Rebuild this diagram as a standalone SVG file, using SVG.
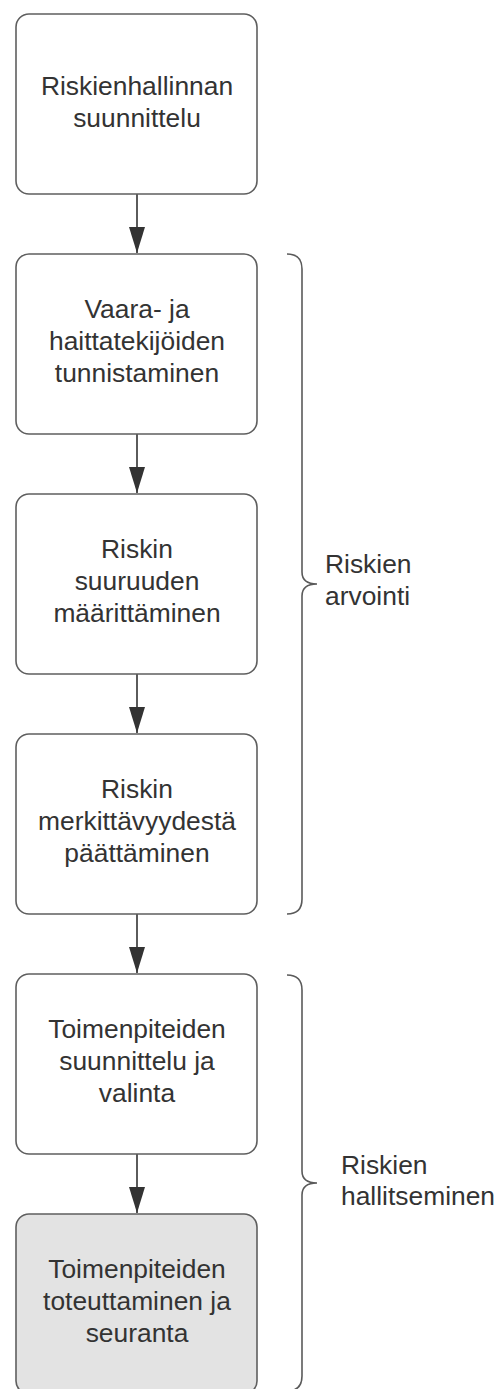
<svg xmlns="http://www.w3.org/2000/svg" width="499" height="1389" viewBox="0 0 499 1389">
<defs>
<style>
.box{fill:#ffffff;stroke:#5f5f5f;stroke-width:1.6}
.box.gray{fill:#e3e3e3}
.t{font-family:"Liberation Sans",Arial,sans-serif;font-size:26.4px;fill:#333333;text-anchor:middle}
.lbl{font-family:"Liberation Sans",Arial,sans-serif;font-size:26.4px;fill:#333333}
.edge{stroke:#333333;stroke-width:1.6;fill:none}
.brace{stroke:#5a5a5a;stroke-width:1.6;fill:none}
</style>
<marker id="arr" viewBox="0 0 26 16" refX="26" refY="8" markerWidth="26" markerHeight="16" markerUnits="userSpaceOnUse" orient="auto">
<path d="M0,0 L26,8 L0,16 Z" fill="#333333"/>
</marker>
</defs>
<rect width="499" height="1389" fill="#ffffff"/>

<g id="connectors">
<line class="edge" x1="137" y1="194" x2="137" y2="253" marker-end="url(#arr)"/>
<line class="edge" x1="137" y1="434" x2="137" y2="493" marker-end="url(#arr)"/>
<line class="edge" x1="137" y1="674" x2="137" y2="733" marker-end="url(#arr)"/>
<line class="edge" x1="137" y1="914" x2="137" y2="973" marker-end="url(#arr)"/>
<line class="edge" x1="137" y1="1154" x2="137" y2="1213" marker-end="url(#arr)"/>
</g>

<g id="n1">
<rect class="box" x="16" y="14" width="241" height="180" rx="13"/>
<text class="t" x="137" y="95">Riskienhallinnan</text>
<text class="t" x="137" y="126.5">suunnittelu</text>
</g>
<g id="n2">
<rect class="box" x="16" y="254" width="241" height="180" rx="13"/>
<text class="t" x="137" y="318">Vaara- ja</text>
<text class="t" x="137" y="350">haittatekijöiden</text>
<text class="t" x="137" y="382">tunnistaminen</text>
</g>
<g id="n3">
<rect class="box" x="16" y="494" width="241" height="180" rx="13"/>
<text class="t" x="137" y="558">Riskin</text>
<text class="t" x="137" y="590">suuruuden</text>
<text class="t" x="137" y="622">määrittäminen</text>
</g>
<g id="n4">
<rect class="box" x="16" y="734" width="241" height="180" rx="13"/>
<text class="t" x="137" y="798">Riskin</text>
<text class="t" x="137" y="830">merkittävyydestä</text>
<text class="t" x="137" y="862">päättäminen</text>
</g>
<g id="n5">
<rect class="box" x="16" y="974" width="241" height="180" rx="13"/>
<text class="t" x="137" y="1038">Toimenpiteiden</text>
<text class="t" x="137" y="1070">suunnittelu ja</text>
<text class="t" x="137" y="1102">valinta</text>
</g>
<g id="n6">
<rect class="box gray" x="16" y="1214" width="241" height="180" rx="13"/>
<text class="t" x="137" y="1278">Toimenpiteiden</text>
<text class="t" x="137" y="1310">toteuttaminen ja</text>
<text class="t" x="137" y="1342">seuranta</text>
</g>

<g id="brace1">
<path class="brace" d="M287,254 Q302,254 302,269 L302,572 Q302,584 317,584 Q302,584 302,596 L302,899 Q302,914 287,914"/>
<text class="lbl" x="325" y="573">Riskien</text>
<text class="lbl" x="325" y="605">arvointi</text>
</g>
<g id="brace2">
<path class="brace" d="M287,975 Q302,975 302,990 L302,1171 Q302,1183 317,1183 Q302,1183 302,1195 L302,1376 Q302,1391 287,1391"/>
<text class="lbl" x="341" y="1174">Riskien</text>
<text class="lbl" x="341" y="1205">hallitseminen</text>
</g>
</svg>
